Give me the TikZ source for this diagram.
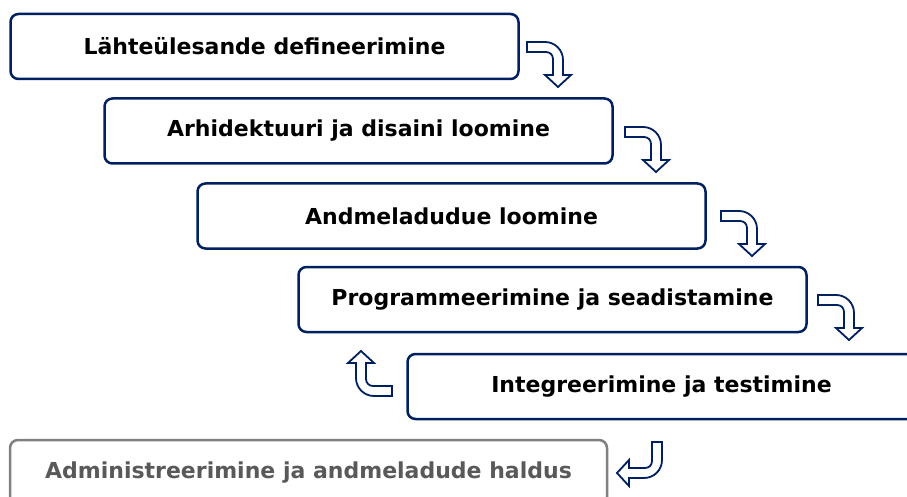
\documentclass[tikz,border=0pt]{standalone}
\usepackage{fontspec}
\setmainfont{DejaVu Sans}

\definecolor{navy}{RGB}{0,32,96}
\definecolor{greyline}{RGB}{128,128,128}
\definecolor{greytext}{RGB}{89,89,89}

\tikzset{
    phase/.style={draw=navy, line width=2.5pt, rounded corners=8pt, fill=white,
        minimum width=508pt, minimum height=65pt, inner sep=0pt,
        font=\fontsize{22}{26}\selectfont\bfseries},
    oldphase/.style={phase, draw=greyline, text=greytext, minimum width=597pt},
    bentarrow/.pic={
        \draw[navy, line width=1.8pt, fill=white, line join=miter]
            (0,0) -- (18,0) .. controls (28,0) and (36,8) .. (36,18)
            -- (36,33) -- (44,33) -- (31,45) -- (18,33) -- (26,33) -- (26,17)
            .. controls (26,13) and (23,10) .. (19,10) -- (0,10) -- cycle;
    }
}

\begin{document}
\begin{tikzpicture}[x=1pt, y=-1pt]
    \useasboundingbox (0,0) rectangle (907,497);
    \clip (0,0) rectangle (907,497);

    \node[phase] (req) at (264.5,46.5) {Lähteülesande defineerimine};
    \node[phase] (arch) at (358.5,131) {Arhidektuuri ja disaini loomine};
    \node[phase] (dwh) at (451.5,216) {Andmeladudue loomine};
    \node[phase] (prog) at (552.5,299.5) {Programmeerimine ja seadistamine};
    \node[phase] (test) at (661.5,386.5) {Integreerimine ja testimine};
    \node[oldphase] (admin) at (308.5,472.5) {Administreerimine ja andmeladude haldus};

    \pic at (527,42) {bentarrow};
    \pic at (625,127) {bentarrow};
    \pic at (721,211) {bentarrow};
    \pic at (818,295) {bentarrow};
    \pic[rotate=180] at (392,396) {bentarrow};
    \pic[rotate=-90] at (662,442) {bentarrow};
\end{tikzpicture}
\end{document}
